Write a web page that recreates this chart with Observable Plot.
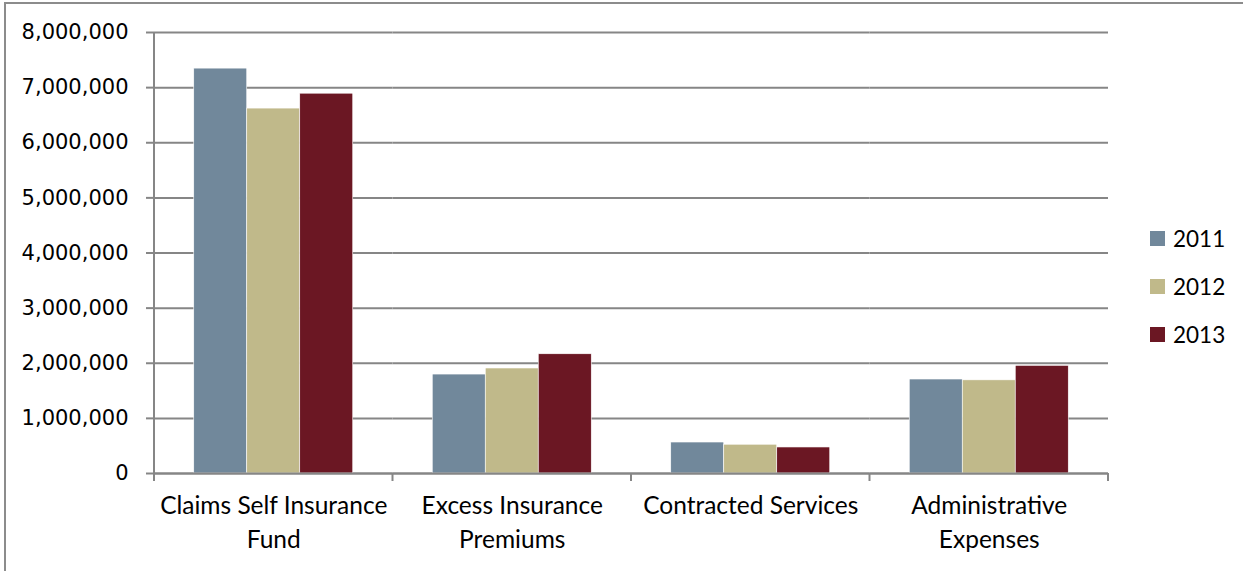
<!DOCTYPE html>
<html>
<head>
<meta charset="utf-8">
<script src="https://cdn.jsdelivr.net/npm/d3@7"></script>
<script src="https://cdn.jsdelivr.net/npm/@observablehq/plot@0.6"></script>
<style>
  html, body { margin: 0; padding: 0; background: #fff; }
  #wrap { position: relative; width: 1243px; height: 571px; overflow: hidden; }
  #frame { position: absolute; left: 4px; top: 2px; right: -10px; bottom: -10px;
           border-left: 2px solid #8c8c8c; border-top: 2px solid #8c8c8c; pointer-events: none; }
  #legend { position: absolute; left: 1150px; top: 214px; font-family: Lato, sans-serif; font-size: 22.5px; color: #000; }
  .item { display: flex; align-items: center; height: 48px; }
  .sw { width: 15px; height: 15px; margin-right: 8px; }
</style>
</head>
<body>
<div id="wrap">
  <div id="chart"></div>
  <div id="legend"></div>
  <div id="frame"></div>
</div>
<script>
const categories = ["Claims Self Insurance Fund", "Excess Insurance Premiums", "Contracted Services", "Administrative Expenses"];
const categoryLabels = ["Claims Self Insurance\nFund", "Excess Insurance\nPremiums", "Contracted Services", "Administrative\nExpenses"];
const years = ["2011", "2012", "2013"];
const values2011 = [7345000, 1795000, 562000, 1705000];
const values2012 = [6620000, 1905000, 522000, 1690000];
const values2013 = [6890000, 2163000, 472000, 1953000];
const yTicks = [0, 1000000, 2000000, 3000000, 4000000, 5000000, 6000000, 7000000, 8000000];
const colors = ["#71889b", "#c0b98a", "#6b1723"];

const series = [values2011, values2012, values2013];
const data = [];
categories.forEach((c, i) => years.forEach((y, j) => data.push({category: c, year: y, value: series[j][i]})));
const labelOf = new Map(categories.map((c, i) => [c, categoryLabels[i]]));

const plot = Plot.plot({
  width: 1243,
  height: 571,
  marginLeft: 154,
  marginRight: 135,
  marginTop: 32,
  marginBottom: 98,
  style: {background: "transparent", overflow: "visible"},
  fx: {domain: categories, paddingInner: 0, paddingOuter: 0, round: false, label: null},
  x: {domain: years, paddingInner: 0, paddingOuter: 0.75, round: false, axis: null},
  y: {domain: [0, 8000000], label: null},
  color: {domain: years, range: colors},
  marks: [
    Plot.ruleY(yTicks, {stroke: "#868686", strokeWidth: 2}),
    Plot.barY(data, {fx: "category", x: "year", y: "value", fill: "year", stroke: "#fff", strokeWidth: 0.6}),
    Plot.ruleY([0], {stroke: "#868686", strokeWidth: 2}),
    Plot.axisY({ticks: yTicks, tickFormat: d3.format(","), tickSize: 8, tickPadding: 18,
      fontSize: 21, fontFamily: "DejaVu Sans", stroke: "#868686", strokeWidth: 2, label: null, color: "#000"}),
    Plot.axisFx({anchor: "bottom", tickSize: 0, tickPadding: 16, tickFormat: d => labelOf.get(d), fontSize: 24.5,
      fontFamily: "Lato", lineHeight: 1.39, label: null, color: "#000"})
  ]
});
document.getElementById("chart").appendChild(plot);

// axis line and category boundary ticks, from the fx and y scales
const fx = plot.scale("fx"), ys = plot.scale("y");
const svg = d3.select(plot);
const y0 = ys.apply(0), yTop = ys.apply(8000000);
const left = fx.apply(categories[0]);
const bounds = categories.map(c => fx.apply(c)).concat([fx.apply(categories[categories.length - 1]) + fx.bandwidth]);
const g = svg.append("g").attr("stroke", "#868686").attr("stroke-width", 2);
g.append("line").attr("x1", left).attr("x2", left).attr("y1", yTop).attr("y2", y0 + 8);
bounds.forEach(b => g.append("line").attr("x1", b).attr("x2", b).attr("y1", y0).attr("y2", y0 + 8));

// legend
const leg = d3.select("#legend");
years.forEach((y, i) => {
  const it = leg.append("div").attr("class", "item");
  it.append("div").attr("class", "sw").style("background", colors[i]);
  it.append("span").text(y);
});
</script>
</body>
</html>
